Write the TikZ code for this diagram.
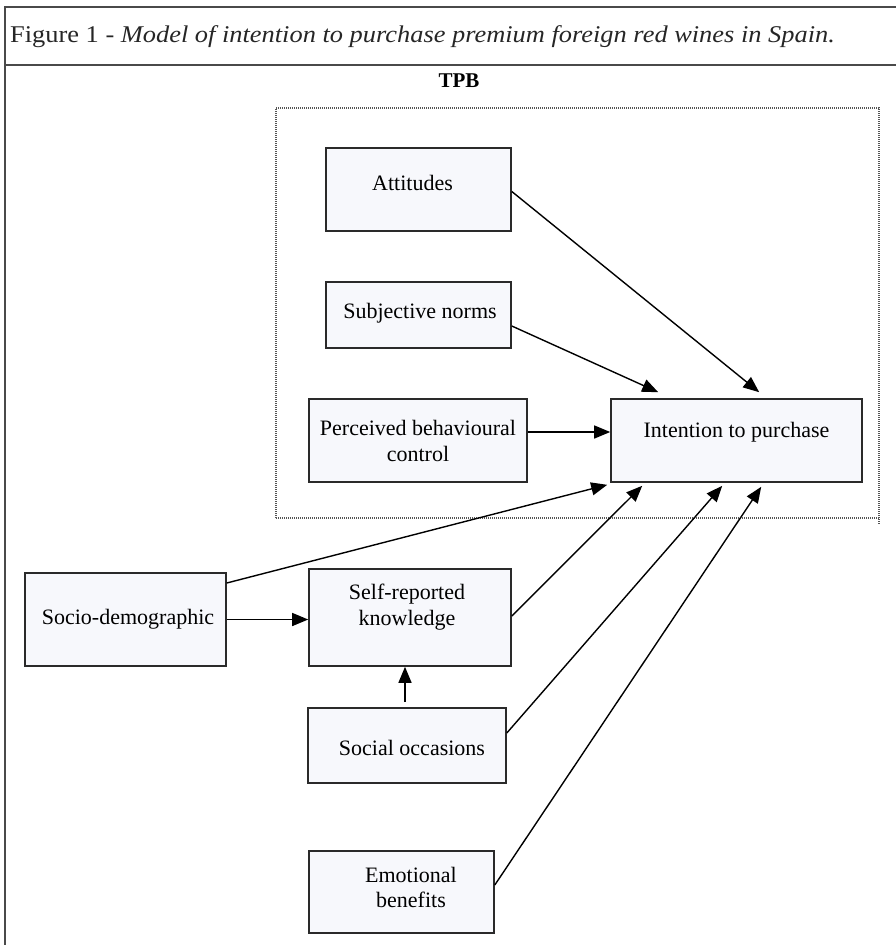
\documentclass[tikz,border=0pt]{standalone}
\usepackage{fontspec}
\setmainfont{Liberation Serif}
\usetikzlibrary{arrows.meta,calc}
\definecolor{boxfill}{HTML}{F7F8FC}
\definecolor{boxline}{HTML}{2A2A2A}
\definecolor{framecol}{HTML}{4A4A4A}
\definecolor{dotcol}{HTML}{555555}
\newcommand\tx[3]{\raisebox{#2}[\height][\depth]{\makebox[0pt]{\hspace*{#1}\hspace*{#1}#3}}}
\newcommand\twol[2]{\begin{tabular}{@{}c@{}}#1\\#2\end{tabular}}
\begin{document}
\begin{tikzpicture}[x=1pt,y=-1pt,
  box/.style={draw=boxline,fill=boxfill,line width=1.6pt,inner sep=0pt,
    font=\fontsize{22}{25.5}\selectfont,text=black},
  arr/.style={line width=1.4pt,-{Triangle[length=16pt,width=13pt]}},
  frame/.style={draw=framecol,line width=1.8pt},
  tpbline/.style={draw=dotcol,line width=1.1pt,dash pattern=on 1pt off 1pt}]
\useasboundingbox (0,0) rectangle (896,945);
% frame
\draw[frame] (896,7) -- (5,7) -- (5,945);
\draw[frame] (5,65) -- (896,65);
\node[anchor=west,inner sep=0pt,text=black!85,font=\fontsize{24}{28}\selectfont] (title) at (10,37)
  {\scalebox{1.1}[1]{Figure 1 - \textit{Model of intention to purchase premium foreign red wines in Spain.}}};
\node[inner sep=0pt,font=\fontsize{21}{24}\selectfont\bfseries] (tpb) at (459,81) {TPB};
% dotted TPB region
\coordinate (d1) at (276,108);
\coordinate (d2) at (879,108);
\coordinate (d3) at (879,525);
\coordinate (d4) at (276,518);
\coordinate (d5) at (879,518);
\draw[tpbline] (d4) -- (d1) -- (d2) -- (d3);
\draw[tpbline] (d4) -- (d5);
% boxes
\node[box,minimum width=185,minimum height=83] (att) at (418.5,189.5) {\tx{-6pt}{6.5pt}{Attitudes}};
\node[box,minimum width=185,minimum height=66] (sub) at (418.5,315) {\tx{1.5pt}{2pt}{Subjective norms}};
\node[box,minimum width=218,minimum height=83] (pbc) at (418,440.5) {\tx{0pt}{-3pt}{\twol{Perceived behavioural}{control}}};
\node[box,minimum width=251,minimum height=83] (int) at (736.5,440.5) {\tx{0pt}{8.5pt}{Intention to purchase}};
\node[box,minimum width=201,minimum height=93] (soc) at (125.5,619.5) {\tx{2.5pt}{0pt}{Socio-demographic}};
\node[box,minimum width=202,minimum height=97] (srk) at (410,617.5) {\tx{-3pt}{10pt}{\twol{Self-reported}{knowledge}}};
\node[box,minimum width=198,minimum height=75] (occ) at (407,745.5) {\tx{5pt}{-2.5pt}{Social occasions}};
\node[box,minimum width=185,minimum height=82] (emo) at (401.5,892) {\tx{9.5pt}{2pt}{\twol{Emotional}{benefits}}};
% connectors
\draw[arr] ([yshift=-2pt]att.east) -- ([xshift=149pt,yshift=6pt]int.north west);
\draw[arr] ([yshift=-11pt]sub.east) -- ([xshift=48pt,yshift=6pt]int.north west);
\draw[arr] ([yshift=8.5pt]pbc.east) -- ([yshift=8.5pt]int.west);
\draw[arr] ([yshift=36.5pt]soc.east) -- ([xshift=-3pt,yshift=-2pt]int.south west);
\draw[arr] (soc.east) -- (soc.east -| srk.west);
\draw[arr] ([yshift=1.5pt]srk.east) -- ([xshift=32pt,yshift=-3pt]int.south west);
\draw[arr] ([yshift=12.5pt]occ.east) -- ([xshift=112pt,yshift=-3pt]int.south west);
\draw[arr] ([yshift=7pt]emo.east) -- ([xshift=151pt,yshift=-4pt]int.south west);
\draw[arr] ([xshift=-2pt,yshift=5pt]occ.north) -- ([xshift=-2pt]occ.north |- srk.south);
\end{tikzpicture}
\end{document}
